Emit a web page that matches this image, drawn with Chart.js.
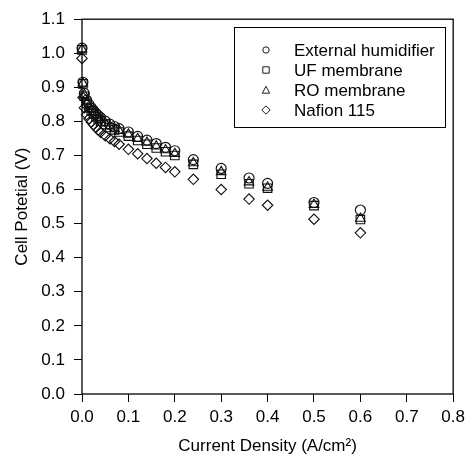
<!DOCTYPE html>
<html>
<head>
<meta charset="utf-8">
<script src="https://cdn.jsdelivr.net/npm/chart.js@4.4.1/dist/chart.umd.min.js"></script>
<style>
  html, body { margin: 0; padding: 0; background: #fff; }
  #wrap { width: 470px; height: 460px; }
</style>
</head>
<body>
<div id="wrap"><canvas id="polChart" width="470" height="460"></canvas></div>
<script>
// current density (A/cm2)
const currentDensity = [0, 0.002, 0.005, 0.01, 0.015, 0.02, 0.025, 0.03, 0.035, 0.04, 0.05, 0.06, 0.07, 0.08,
    0.1, 0.12, 0.14, 0.16, 0.18, 0.2, 0.24, 0.3, 0.36, 0.4, 0.5, 0.6];

// cell potential (V)
const externalHumidifier = [1.015, 0.915, 0.882, 0.862, 0.850, 0.840, 0.832, 0.824, 0.817, 0.811, 0.801, 0.792, 0.785, 0.779,
    0.769, 0.756, 0.745, 0.735, 0.724, 0.714, 0.688, 0.662, 0.634, 0.618, 0.562, 0.540];
const ufMembrane = [1.010, 0.910, 0.874, 0.853, 0.841, 0.831, 0.822, 0.814, 0.807, 0.801, 0.791, 0.782, 0.775, 0.769,
    0.757, 0.744, 0.733, 0.722, 0.711, 0.700, 0.674, 0.645, 0.617, 0.604, 0.553, 0.512];
const roMembrane = [1.012, 0.912, 0.878, 0.857, 0.845, 0.835, 0.826, 0.818, 0.811, 0.805, 0.795, 0.786, 0.779, 0.773,
    0.762, 0.749, 0.738, 0.727, 0.716, 0.705, 0.678, 0.652, 0.622, 0.606, 0.556, 0.515];
const nafion115 = [0.985, 0.870, 0.840, 0.820, 0.808, 0.798, 0.790, 0.782, 0.775, 0.768, 0.758, 0.749, 0.741, 0.733,
    0.718, 0.705, 0.691, 0.677, 0.665, 0.652, 0.630, 0.600, 0.572, 0.554, 0.513, 0.473];

const seriesLabels = ['External humidifier', 'UF membrane', 'RO membrane', 'Nafion 115'];
const seriesValues = [externalHumidifier, ufMembrane, roMembrane, nafion115];
const markerStyles = ['circle', 'rect', 'triangle', 'rectRot'];
const markerSizes = [5, 6, 5.5, 5.2];

const xTicksRange = { min: 0, max: 0.8, step: 0.1 };
const yTicksRange = { min: 0, max: 1.1, step: 0.1 };

const FONT = '"Liberation Sans", Arial, sans-serif';
const INK = '#000';

function toPoints(values) {
    return values.map((v, i) => ({ x: currentDensity[i], y: v }));
}

// frame round the plot + legend box in the upper right
const framePlugin = {
    id: 'frameAndLegend',
    afterDraw(chart) {
        const { ctx, chartArea: a } = chart;
        ctx.save();
        ctx.strokeStyle = INK;
        ctx.lineWidth = 1.3;
        ctx.strokeRect(a.left, a.top, a.right - a.left, a.bottom - a.top);

        // legend
        const bx = 234, by = 27, bw = 211, bh = 100;
        ctx.lineWidth = 1;
        ctx.strokeRect(bx + 0.5, by + 0.5, bw, bh);
        ctx.font = '17px ' + FONT;
        ctx.fillStyle = INK;
        ctx.textBaseline = 'middle';
        const mx = 266, tx = 294;
        chart.data.datasets.forEach((ds, i) => {
            const y = 50 + i * 20;
            ctx.beginPath();
            const r = 3.2;
            if (ds.pointStyle === 'circle') {
                ctx.arc(mx, y, r, 0, Math.PI * 2);
            } else if (ds.pointStyle === 'rect') {
                ctx.rect(mx - r, y - r, 2 * r, 2 * r);
            } else if (ds.pointStyle === 'triangle') {
                ctx.moveTo(mx, y - r - 0.5);
                ctx.lineTo(mx + r + 0.5, y + r);
                ctx.lineTo(mx - r - 0.5, y + r);
                ctx.closePath();
            } else {
                ctx.moveTo(mx, y - r - 1);
                ctx.lineTo(mx + r + 1, y);
                ctx.lineTo(mx, y + r + 1);
                ctx.lineTo(mx - r - 1, y);
                ctx.closePath();
            }
            ctx.lineWidth = 0.9;
            ctx.stroke();
            ctx.fillText(ds.label, tx, y + 1);
        });
        ctx.restore();
    }
};

const datasets = seriesLabels.map((label, i) => ({
    label: label,
    data: toPoints(seriesValues[i]),
    pointStyle: markerStyles[i],
    pointRadius: markerSizes[i],
    pointHoverRadius: markerSizes[i],
    pointBorderColor: '#111',
    pointBackgroundColor: 'rgba(0,0,0,0)',
    pointBorderWidth: 1.15,
    showLine: false,
    clip: false
}));

Chart.defaults.font.family = FONT;
Chart.defaults.color = INK;

new Chart(document.getElementById('polChart'), {
    type: 'scatter',
    data: { datasets: datasets },
    options: {
        responsive: false,
        animation: false,
        devicePixelRatio: 1,
        layout: { padding: { top: 19, right: 13, left: 0, bottom: 0 } },
        plugins: {
            legend: { display: false },
            tooltip: { enabled: false }
        },
        scales: {
            x: {
                type: 'linear',
                min: xTicksRange.min,
                max: xTicksRange.max,
                afterFit(scale) { scale.height = 66; },
                ticks: {
                    stepSize: xTicksRange.step,
                    padding: 5,
                    font: { size: 17 },
                    color: INK,
                    callback: v => v.toFixed(1)
                },
                grid: { drawOnChartArea: false, drawTicks: true, tickLength: 8, tickColor: INK, color: INK },
                border: { display: false },
                title: {
                    display: true,
                    text: 'Current Density (A/cm²)',
                    font: { size: 17 },
                    color: INK,
                    padding: { top: 0, bottom: 3 }
                }
            },
            y: {
                type: 'linear',
                min: yTicksRange.min,
                max: yTicksRange.max,
                afterFit(scale) { scale.width = 82; },
                ticks: {
                    stepSize: yTicksRange.step,
                    padding: 9,
                    font: { size: 17 },
                    color: INK,
                    callback: v => v.toFixed(1)
                },
                grid: { drawOnChartArea: false, drawTicks: true, tickLength: 8, tickColor: INK, color: INK },
                border: { display: false },
                title: {
                    display: true,
                    text: 'Cell Potetial (V)',
                    font: { size: 17 },
                    color: INK,
                    padding: { top: 12, bottom: 0 }
                }
            }
        }
    },
    plugins: [framePlugin]
});
</script>
</body>
</html>
